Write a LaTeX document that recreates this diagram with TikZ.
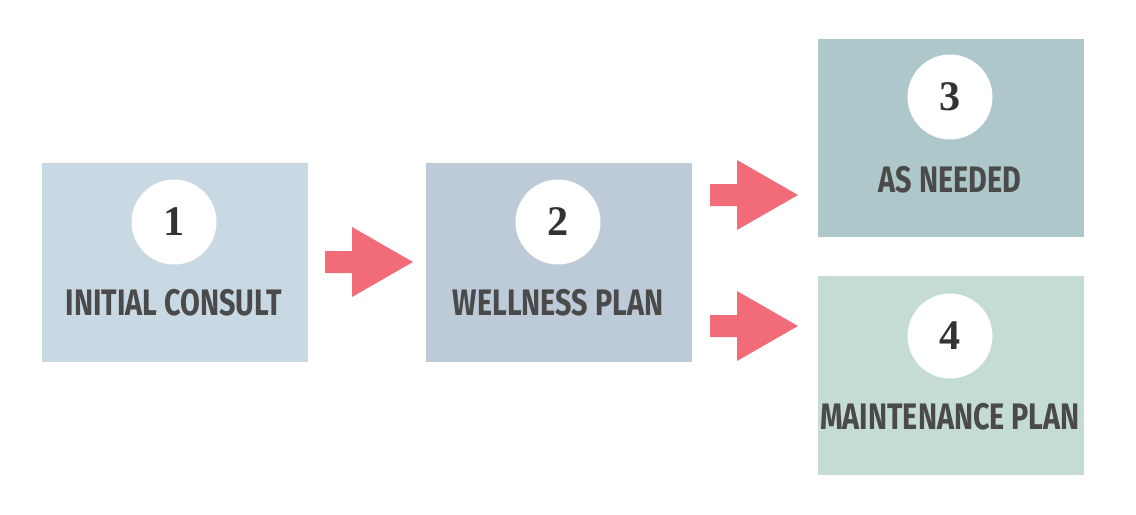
\documentclass[tikz,border=0pt]{standalone}
\usepackage{fontspec}
\setmainfont{Liberation Serif}
\newfontfamily\labelfont[FakeStretch=0.78]{Fira Sans}
\definecolor{boxone}{HTML}{C9D9E3}
\definecolor{boxtwo}{HTML}{BDCBD9}
\definecolor{boxthree}{HTML}{AEC7CB}
\definecolor{boxfour}{HTML}{C5DCD2}
\definecolor{arrowpink}{HTML}{F16C78}
\definecolor{labelgray}{HTML}{4A4A4A}
\newcommand{\flowarrow}[1]{%
  \fill[arrowpink,shift={(#1)}] (-88,-11) -- (-61,-11) -- (-61,-35) -- (0,0)
    -- (-61,35) -- (-61,11) -- (-88,11) -- cycle;}
\begin{document}
\begin{tikzpicture}
    [x=0.02cm,y=-0.02cm,
     stepbox/.style={minimum width=5.32cm,minimum height=3.98cm,inner sep=0pt},
     numdisc/.style={circle,fill=white,minimum size=1.7cm,inner sep=0pt,
       font=\bfseries\fontsize{24}{24}\selectfont,text=black!80},
     steplabel/.style={font=\labelfont\bfseries\fontsize{21}{21}\selectfont,text=labelgray}]
    \useasboundingbox (0,0) rectangle (1136,514);
    \node [stepbox,fill=boxone] (consult) at (175,262.5) {};
    \node [stepbox,fill=boxtwo] (wellness) at (559,262.5) {};
    \node [stepbox,fill=boxthree] (needed) at (951,138) {};
    \node [stepbox,fill=boxfour] (maint) at (951,375.5) {};
    \node [numdisc] (n1) at (174,222) {1};
    \node [numdisc] (n2) at (558,222) {2};
    \node [numdisc] (n3) at (950,97) {3};
    \node [numdisc] (n4) at (950,336) {4};
    \node [steplabel] (t1) at (174,303) {INITIAL CONSULT};
    \node [steplabel] (t2) at (558,303) {WELLNESS PLAN};
    \node [steplabel] (t3) at (950,180) {AS NEEDED};
    \node [steplabel] (t4) at (950,417) {MAINTENANCE PLAN};
    % arrows between the steps
    \coordinate (a1) at (413,262);
    \coordinate (a2) at (798,195);
    \coordinate (a3) at (798,326);
    \flowarrow{a1}
    \flowarrow{a2}
    \flowarrow{a3}
\end{tikzpicture}
\end{document}
